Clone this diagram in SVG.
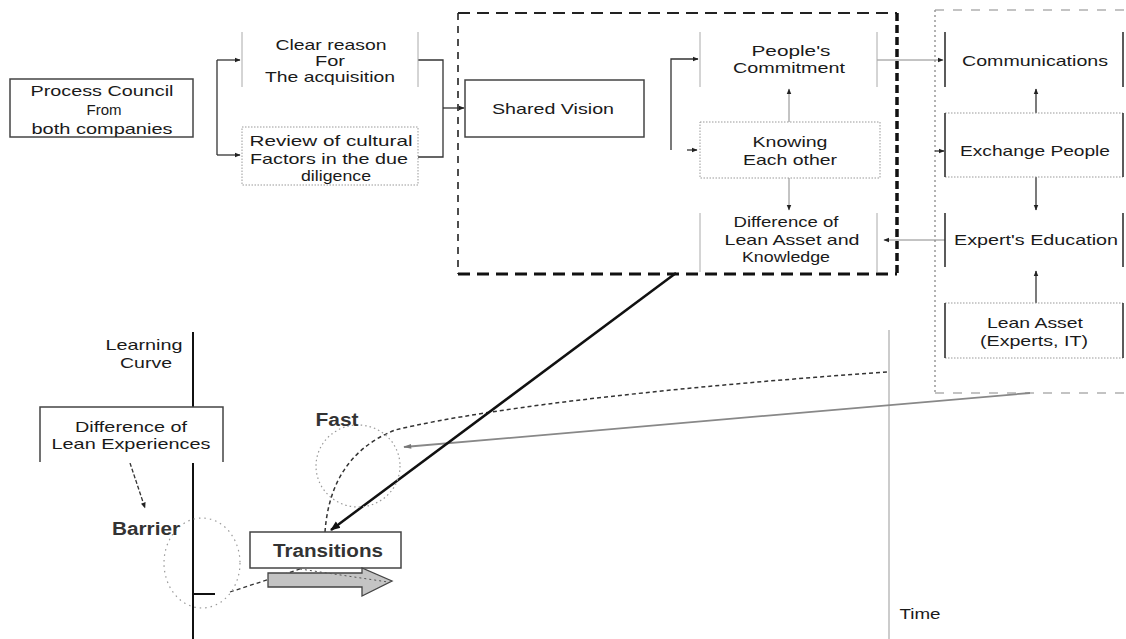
<svg xmlns="http://www.w3.org/2000/svg" width="1126" height="639" viewBox="0 0 1126 639">
  <defs>
    <marker id="arr" viewBox="0 0 10 10" refX="9" refY="5" markerWidth="6" markerHeight="6" orient="auto" markerUnits="userSpaceOnUse">
      <path d="M0,1 L10,5 L0,9 Z" fill="#222"/>
    </marker>
    <marker id="arrBig" viewBox="0 0 10 10" refX="9" refY="5" markerWidth="10" markerHeight="10" orient="auto" markerUnits="userSpaceOnUse">
      <path d="M0,1 L10,5 L0,9 Z" fill="#111"/>
    </marker>
    <marker id="arrGray" viewBox="0 0 10 10" refX="9" refY="5" markerWidth="9" markerHeight="8" orient="auto" markerUnits="userSpaceOnUse">
      <path d="M0,2 L10,5 L0,8 Z" fill="#777"/>
    </marker>
  </defs>
  <style>
    text { font-family: "Liberation Sans", Arial, sans-serif; font-size: 15px; fill: #1a1a1a; text-anchor: middle; }
    .bold { font-weight: bold; font-size: 17.5px; fill: #333; }
    .solid { fill: #fff; stroke: #444; stroke-width: 1.5; }
    .side { stroke: #333; stroke-width: 1.6; fill: none; }
    .lside { stroke: #aaa; stroke-width: 1; fill: none; }
    .dotb { stroke: #999; stroke-width: 1; stroke-dasharray: 1.5 1.5; fill: none; }
    .conn { stroke: #333; stroke-width: 1.3; fill: none; }
    .thin { stroke: #888; stroke-width: 1; fill: none; }
  </style>

  <!-- grouping frames -->
  <g id="frame-integration">
    <path d="M458 13 H897" stroke="#222" stroke-width="2" stroke-dasharray="12 7" fill="none"/>
    <path d="M458 13 V274" stroke="#222" stroke-width="1.6" stroke-dasharray="7 6" fill="none"/>
    <path d="M458 274 H897" stroke="#111" stroke-width="3.2" stroke-dasharray="12 7" fill="none"/>
    <path d="M897 13 V274" stroke="#111" stroke-width="3.5" stroke-dasharray="8 4" fill="none"/>
  </g>
  <g id="frame-lean">
    <path d="M935 10 H1126 M935 393 H1126" stroke="#888" stroke-width="1.2" stroke-dasharray="9 9" fill="none"/>
    <path d="M935 10 V393" stroke="#999" stroke-width="1.5" stroke-dasharray="2 3" fill="none"/>
  </g>

  <!-- axes of the learning curve chart -->
  <g id="axes">
    <path d="M193 332 V639" stroke="#111" stroke-width="2" fill="none"/>
    <path d="M193 594 H215" stroke="#111" stroke-width="2" fill="none"/>
    <path d="M889 330 V639" stroke="#999" stroke-width="1" fill="none"/>
  </g>

  <!-- connectors -->
  <g id="connectors">
    <path class="conn" d="M217 60 V155"/>
    <path class="conn" d="M217 60 H240" marker-end="url(#arr)"/>
    <path class="conn" d="M217 155 H240" marker-end="url(#arr)"/>
    <path class="conn" d="M418 60 H443 V157 H418"/>
    <path class="conn" d="M443 108 H464" marker-end="url(#arr)"/>
    <path class="conn" d="M671 150 V59 H698" marker-end="url(#arr)"/>
    <path class="conn" d="M687 150 H697" marker-end="url(#arr)"/>
    <path class="thin" d="M877 60 H943" marker-end="url(#arr)"/>
    <path class="thin" d="M789 122 V89" marker-end="url(#arr)"/>
    <path class="thin" d="M789 178 V210" marker-end="url(#arr)"/>
    <path class="conn" d="M1036 113 V89" marker-end="url(#arr)"/>
    <path class="conn" d="M1036 177 V210" marker-end="url(#arr)"/>
    <path class="conn" d="M1036 303 V271" marker-end="url(#arr)"/>
    <path class="conn" d="M935 151 H944" marker-end="url(#arr)"/>
    <path class="thin" d="M945 240 H884" marker-end="url(#arr)"/>
    <!-- learning curve paths -->
    <path d="M1030 393 L404 447" stroke="#888" stroke-width="1.8" fill="none" marker-end="url(#arrGray)"/>
    <path d="M325 532 C328 490 345 450 395 430 C500 405 700 385 887 372" stroke="#333" stroke-width="1.5" stroke-dasharray="4 3" fill="none"/>
    <path d="M676 273 L331 530" stroke="#111" stroke-width="2.5" fill="none" marker-end="url(#arrBig)"/>
    <path d="M130 463 L145 508" stroke="#333" stroke-width="1.3" stroke-dasharray="4 2" fill="none" marker-end="url(#arr)"/>
    <path d="M230 592 L300 569" stroke="#333" stroke-width="1.3" stroke-dasharray="4 3" fill="none"/>
    <ellipse cx="202" cy="563" rx="38" ry="45" fill="none" stroke="#999" stroke-width="1.2" stroke-dasharray="1.5 4"/>
    <ellipse cx="358" cy="466" rx="42" ry="41" fill="none" stroke="#999" stroke-width="1.2" stroke-dasharray="1.5 3"/>
  </g>

  <g id="process-council">
    <rect class="solid" x="10" y="79" width="183" height="58"/>
    <text x="102" y="96" textLength="143" lengthAdjust="spacingAndGlyphs">Process Council</text>
    <text x="104" y="115" textLength="35" lengthAdjust="spacingAndGlyphs">From</text>
    <text x="102" y="134" textLength="141" lengthAdjust="spacingAndGlyphs">both companies</text>
  </g>

  <g id="clear-reason">
    <path class="lside" d="M242 32 V87 M418 32 V87"/>
    <text x="331" y="50" textLength="111" lengthAdjust="spacingAndGlyphs">Clear reason</text>
    <text x="330" y="66" textLength="30" lengthAdjust="spacingAndGlyphs">For</text>
    <text x="330" y="82" textLength="130" lengthAdjust="spacingAndGlyphs">The acquisition</text>
  </g>

  <g id="review-cultural">
    <rect class="dotb" x="242" y="127" width="176" height="58"/>
    <text x="331" y="146" textLength="163" lengthAdjust="spacingAndGlyphs">Review of cultural</text>
    <text x="329" y="164" textLength="158" lengthAdjust="spacingAndGlyphs">Factors in the due</text>
    <text x="336" y="181" textLength="70" lengthAdjust="spacingAndGlyphs">diligence</text>
  </g>

  <g id="shared-vision">
    <rect class="solid" x="465" y="80" width="179" height="57" stroke="#555"/>
    <text x="553" y="114" textLength="122" lengthAdjust="spacingAndGlyphs">Shared Vision</text>
  </g>

  <g id="peoples-commitment">
    <path class="lside" d="M700 32 V87 M877 32 V87"/>
    <text x="791" y="56" textLength="79" lengthAdjust="spacingAndGlyphs">People's</text>
    <text x="789" y="73" textLength="112" lengthAdjust="spacingAndGlyphs">Commitment</text>
  </g>

  <g id="knowing-each-other">
    <rect class="dotb" x="700" y="122" width="180" height="56"/>
    <text x="790" y="147" textLength="75" lengthAdjust="spacingAndGlyphs">Knowing</text>
    <text x="790" y="165" textLength="94" lengthAdjust="spacingAndGlyphs">Each other</text>
  </g>

  <g id="difference-lean-asset">
    <path class="lside" d="M700 213 V272 M877 213 V272"/>
    <text x="786" y="227" textLength="105" lengthAdjust="spacingAndGlyphs">Difference of</text>
    <text x="792" y="245" textLength="135" lengthAdjust="spacingAndGlyphs">Lean Asset and</text>
    <text x="786" y="262" textLength="88" lengthAdjust="spacingAndGlyphs">Knowledge</text>
  </g>

  <g id="communications">
    <path class="side" d="M945 32 V87 M1123 32 V87"/>
    <text x="1035" y="66" textLength="146" lengthAdjust="spacingAndGlyphs">Communications</text>
  </g>

  <g id="exchange-people">
    <path class="dotb" d="M945 113 H1123 M945 177 H1123"/>
    <path class="side" d="M945 113 V177 M1123 113 V177"/>
    <text x="1035" y="156" textLength="150" lengthAdjust="spacingAndGlyphs">Exchange People</text>
  </g>

  <g id="experts-education">
    <path class="side" d="M945 213 V267 M1123 213 V267"/>
    <text x="1036" y="245" textLength="164" lengthAdjust="spacingAndGlyphs">Expert's Education</text>
  </g>

  <g id="lean-asset">
    <path class="dotb" d="M945 303 H1123 M945 358 H1123"/>
    <path class="side" d="M945 303 V358 M1123 303 V358"/>
    <text x="1035" y="328" textLength="96" lengthAdjust="spacingAndGlyphs">Lean Asset</text>
    <text x="1034" y="346" textLength="108" lengthAdjust="spacingAndGlyphs">(Experts, IT)</text>
  </g>

  <g id="learning-curve-label">
    <text x="144" y="350" textLength="77" lengthAdjust="spacingAndGlyphs">Learning</text>
    <text x="146" y="368" textLength="52" lengthAdjust="spacingAndGlyphs">Curve</text>
  </g>

  <g id="difference-lean-experiences">
    <rect x="40" y="407" width="183" height="56" fill="#fff"/>
    <path d="M40 462 V407 H223 V462" fill="none" stroke="#444" stroke-width="1.5"/>
    <text x="131" y="432" textLength="112" lengthAdjust="spacingAndGlyphs">Difference of</text>
    <text x="131" y="449" textLength="159" lengthAdjust="spacingAndGlyphs">Lean Experiences</text>
  </g>

  <g id="barrier">
    <text class="bold" x="146" y="535" textLength="68" lengthAdjust="spacingAndGlyphs">Barrier</text>
  </g>

  <g id="fast">
    <text class="bold" x="337" y="426" textLength="43" lengthAdjust="spacingAndGlyphs">Fast</text>
  </g>

  <g id="transitions">
    <rect class="solid" x="250" y="532" width="151" height="36"/>
    <text class="bold" x="328" y="557" textLength="110" lengthAdjust="spacingAndGlyphs">Transitions</text>
    <path d="M268 573 H362 V568 L392 581 L362 596 V587 H268 Z" fill="#c4c4c4" stroke="#444" stroke-width="1.3"/>
    <path d="M300 569 L388 582" stroke="#555" stroke-width="1" stroke-dasharray="2 3" fill="none"/>
  </g>

  <g id="time-label">
    <text x="920" y="619" textLength="41" lengthAdjust="spacingAndGlyphs">Time</text>
  </g>
</svg>
